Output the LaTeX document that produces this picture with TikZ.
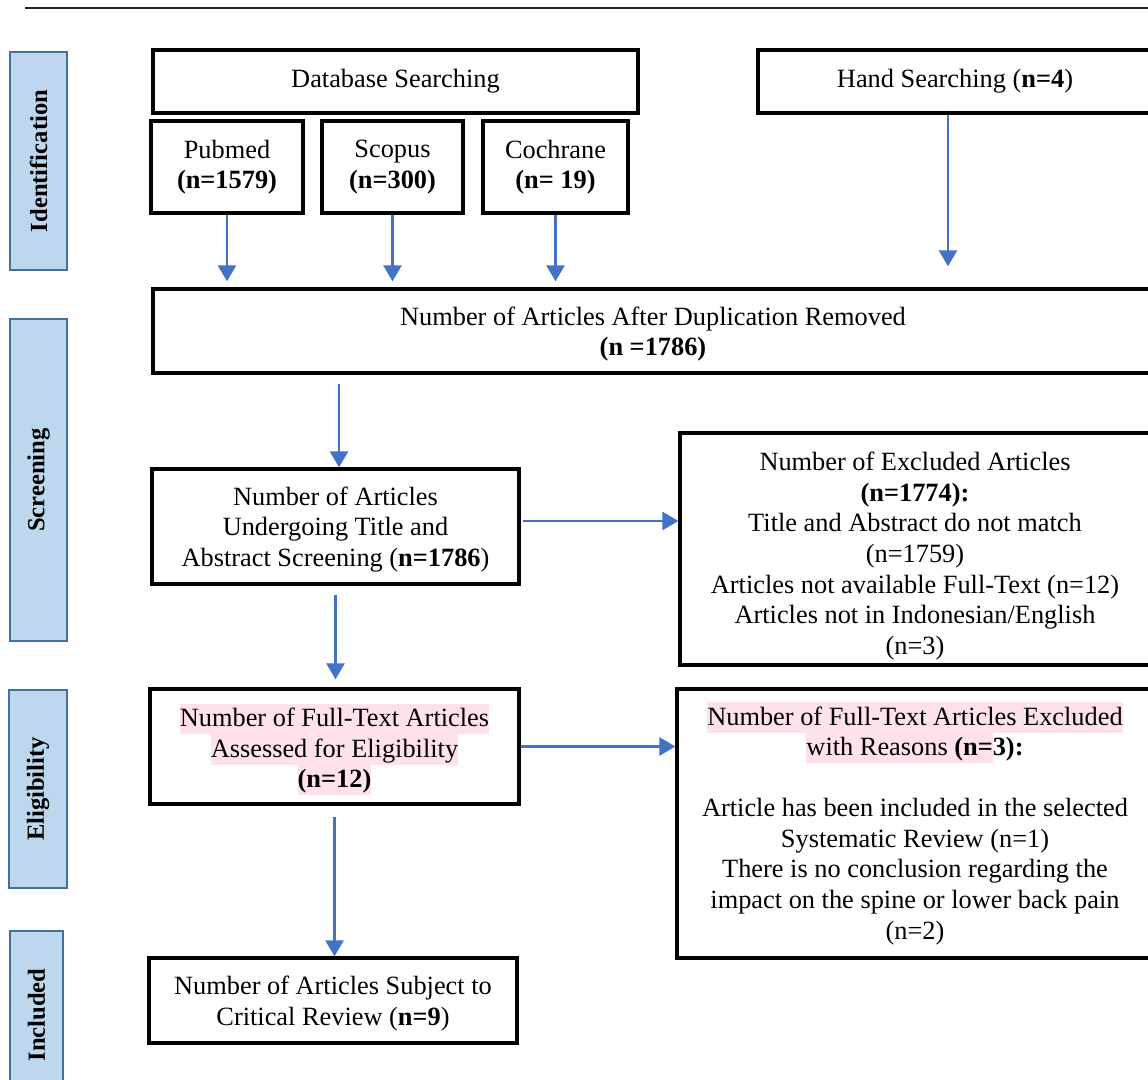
\documentclass[tikz,border=0pt]{standalone}
\usepackage{fontspec}
\setmainfont{Liberation Serif}
\usetikzlibrary{arrows.meta,positioning,calc}
\definecolor{hlpink}{RGB}{255,226,233}
\definecolor{phasefill}{RGB}{189,215,238}
\definecolor{phaseline}{RGB}{65,113,156}
\definecolor{arrblue}{RGB}{68,114,196}
\newcommand{\hl}[1]{{\setlength{\fboxsep}{0pt}\colorbox{hlpink}{\rule[-4.4pt]{0pt}{17.4pt}#1}}}
\newcommand{\topgap}[1]{\rule{0pt}{#1}}

\begin{document}
\begin{tikzpicture}[x=0.02cm,y=-0.02cm,
box/.style={draw,line width=1.9pt,align=center,inner sep=0pt,font=\fontsize{15}{17.4}\selectfont},
phase/.style={draw=phaseline,fill=phasefill,line width=1.5pt,rotate=90,inner sep=0pt,font=\fontsize{14}{16}\selectfont\bfseries},
arr/.style={draw=arrblue,line width=1.5pt,-{Triangle[width=0.36cm,length=0.32cm]}}]
\clip (0,0) rectangle (1148,1079);
\draw[line width=1.2pt,black!85] (25,8) -- (1160,8);
\node[phase,minimum width=4.36cm,minimum height=1.14cm] (P1) at (38.5,161) {Identification};
\node[phase,minimum width=6.44cm,minimum height=1.14cm] (P2) at (38.5,480) {Screening};
\node[phase,minimum width=3.96cm,minimum height=1.16cm] (P3) at (38,789) {Eligibility};
\node[phase,minimum width=3.36cm,minimum height=1.06cm] (P4) at (36.5,1015) {Included};
\node[box,minimum width=9.7cm,minimum height=1.26cm] (db) at (395.5,81.5) {Database Searching};
\node[box,minimum width=7.88cm,minimum height=1.26cm] (hand) at (955,81.5) {Hand Searching (\textbf{n=4})};
\node[box,minimum width=3.04cm,minimum height=1.84cm] (pub) at (227,167) {Pubmed\\\textbf{(n=1579)}};
\node[box,minimum width=2.82cm,minimum height=1.84cm] (sco) at (392.5,167) {Scopus\\\textbf{(n=300)}};
\node[box,minimum width=2.9cm,minimum height=1.84cm] (coc) at (555.5,167) {Cochrane\\\textbf{(n= 19)}};
\node[box,minimum width=20cm,minimum height=1.68cm] (dup) at (653,331) {\topgap{14pt}Number of Articles After Duplication Removed\\\textbf{(n =1786)}};
\node[box,minimum width=7.34cm,minimum height=2.3cm] (scr) at (335.5,526.5) {\topgap{14pt}Number of Articles\\Undergoing Title and\\Abstract Screening (\textbf{n=1786})};
\node[box,minimum width=9.4cm,minimum height=4.64cm] (exc) at (915,549) {\topgap{18.5pt}Number of Excluded Articles\\\textbf{(n=1774):}\\Title and Abstract do not match\\(n=1759)\\Articles not available Full-Text (n=12)\\Articles not in Indonesian/English\\(n=3)};
\node[box,minimum width=7.38cm,minimum height=2.3cm] (ft) at (334.5,746.5) {\topgap{16.4pt}\hl{Number of Full-Text Articles}\\\hl{Assessed for Eligibility}\\\hl{\textbf{(n=12)}}};
\node[box,minimum width=9.52cm,minimum height=5.38cm] (exr) at (915,823.5) {\hl{Number of Full-Text Articles Excluded}\\\hl{with Reasons \textbf{(n=}}\textbf{3):}\\[17.4pt]Article has been included in the selected\\Systematic Review (n=1)\\There is no conclusion regarding the\\impact on the spine or lower back pain\\(n=2)};
\node[box,minimum width=7.36cm,minimum height=1.7cm] (inc) at (333,1000.5) {\topgap{14pt}Number of Articles Subject to\\Critical Review (\textbf{n=9})};
\draw[arr,shorten >=0.12cm] (pub.south) -- (pub.south |- dup.north);
\draw[arr,shorten >=0.12cm] (sco.south) -- (sco.south |- dup.north);
\draw[arr,shorten >=0.12cm] (coc.south) -- (coc.south |- dup.north);
\draw[arr,shorten >=0.42cm] ([xshift=-0.14cm]hand.south) -- ([xshift=-0.14cm]hand.south |- dup.north);
\draw[arr,shorten <=0.18cm] ([xshift=0.07cm]scr.north |- dup.south) -- ([xshift=0.07cm]scr.north);
\draw[arr,shorten <=0.18cm,shorten >=0.16cm] (scr.south) -- (scr.south |- ft.north);
\draw[arr,shorten <=0.04cm] ([yshift=0.11cm]scr.east) -- ([yshift=0.11cm]scr.east -| exc.west);
\draw[arr] (ft.east) -- (ft.east -| exr.west);
\draw[arr,shorten <=0.22cm] (ft.south) -- (ft.south |- inc.north);
\end{tikzpicture}
\end{document}
